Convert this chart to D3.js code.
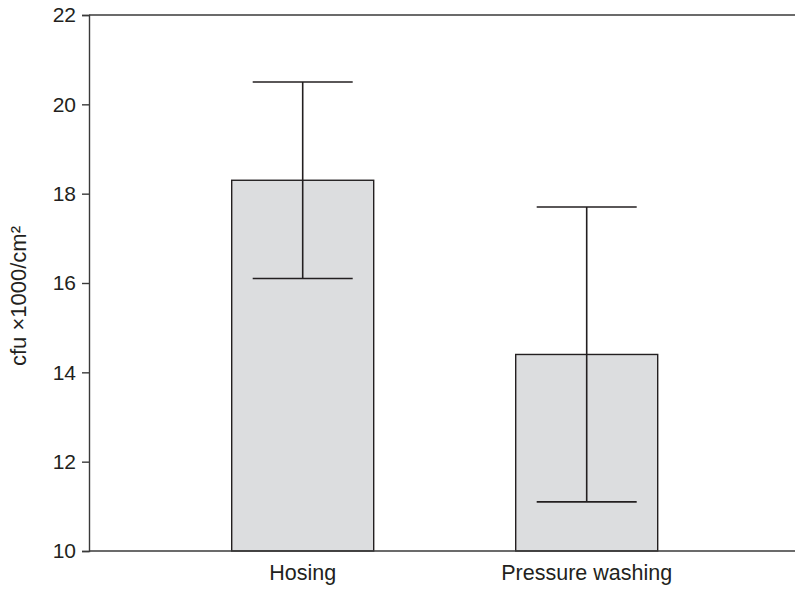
<!DOCTYPE html>
<html><head><meta charset="utf-8">
<script src="https://cdn.jsdelivr.net/npm/d3@7"></script>
<style>body{margin:0;background:#fff}svg{display:block}</style>
</head><body>
<script>
const categories = ["Hosing", "Pressure washing"];
const means = [18.3, 14.4];
const lower = [16.1, 11.1];
const upper = [20.5, 17.7];
const yTicks = [10, 12, 14, 16, 18, 20, 22];
const yLabel = "cfu \u00d71000/cm\u00b2";

const W = 795, H = 590;
const mLeft = 89, mRight = 795, mTop = 15, mBottom = 551;
const font = "'Liberation Sans', Arial, sans-serif";

const svg = d3.select("body").append("svg").attr("width", W).attr("height", H);
const x = d3.scaleBand().domain(categories).range([89.7, 799.7]).paddingInner(0.5).paddingOuter(0.5);
const y = d3.scaleLinear().domain([10, 22]).range([mBottom, mTop]);

// bars
svg.selectAll("rect.bar").data(categories).join("rect")
  .attr("x", d => x(d)).attr("width", x.bandwidth())
  .attr("y", (d, i) => y(means[i])).attr("height", (d, i) => y(10) - y(means[i]))
  .attr("fill", "#dcdddf").attr("stroke", "#231f20").attr("stroke-width", 1.4);

// error bars
const cx = d => x(d) + x.bandwidth() / 2;
const capHalf = 50;
const eg = svg.append("g").attr("stroke", "#231f20").attr("stroke-width", 1.6);
eg.selectAll("line.v").data(categories).join("line")
  .attr("x1", cx).attr("x2", cx)
  .attr("y1", (d, i) => y(upper[i])).attr("y2", (d, i) => y(lower[i]));
eg.selectAll("line.u").data(categories).join("line")
  .attr("x1", d => cx(d) - capHalf).attr("x2", d => cx(d) + capHalf)
  .attr("y1", (d, i) => y(upper[i])).attr("y2", (d, i) => y(upper[i]));
eg.selectAll("line.l").data(categories).join("line")
  .attr("x1", d => cx(d) - capHalf).attr("x2", d => cx(d) + capHalf)
  .attr("y1", (d, i) => y(lower[i])).attr("y2", (d, i) => y(lower[i]));

// frame lines
const fg = svg.append("g").attr("stroke", "#3a3a3a").attr("stroke-width", 1.4);
fg.append("line").attr("x1", mLeft).attr("x2", mRight).attr("y1", mTop).attr("y2", mTop);
fg.append("line").attr("x1", mLeft).attr("x2", mRight).attr("y1", mBottom).attr("y2", mBottom);

// y axis
const yAxis = svg.append("g").attr("transform", `translate(${mLeft},0)`)
  .call(d3.axisLeft(y).tickValues(yTicks).tickFormat(d3.format("d")).tickSize(7).tickPadding(6));
yAxis.select(".domain").attr("stroke", "#3a3a3a").attr("stroke-width", 1.4);
yAxis.selectAll(".tick line").attr("stroke", "#3a3a3a").attr("stroke-width", 1.4);
yAxis.selectAll("text").attr("font-family", font).attr("font-size", 21).attr("fill", "#231f20");

// x labels
svg.selectAll("text.xl").data(categories).join("text")
  .attr("x", cx).attr("y", 580)
  .attr("text-anchor", "middle").attr("font-family", font).attr("font-size", 21.5)
  .attr("fill", "#231f20").text(d => d);

// y label
svg.append("text").attr("transform", "translate(26,296) rotate(-90)")
  .attr("text-anchor", "middle").attr("font-family", font).attr("font-size", 22)
  .attr("fill", "#231f20").text(yLabel);
</script>
</body></html>
